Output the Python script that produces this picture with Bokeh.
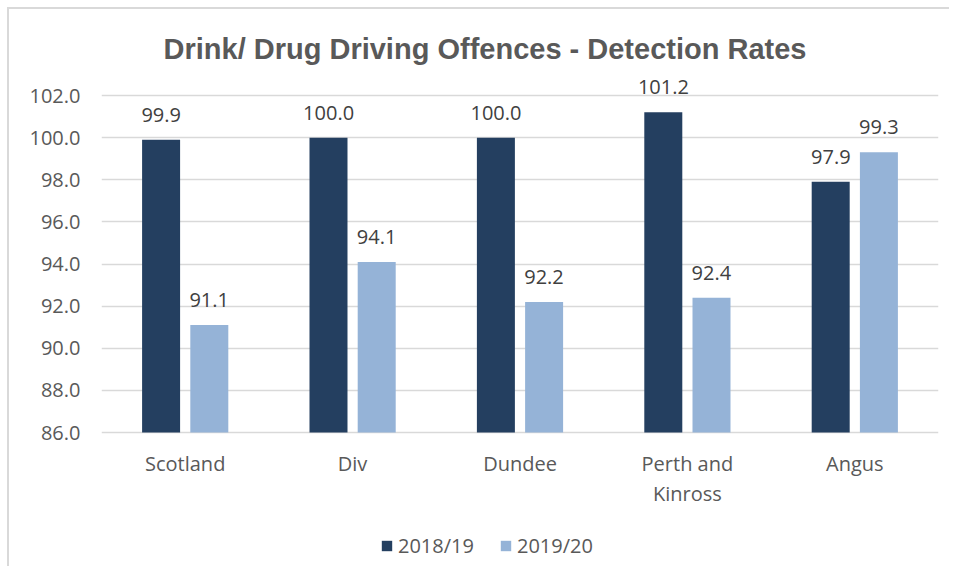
from bokeh.plotting import figure
from bokeh.models import (ColumnDataSource, FactorRange, LabelSet, Legend, LegendItem,
                          Range1d, FixedTicker, NumeralTickFormatter)
from bokeh.core.properties import value
from bokeh.transform import dodge
from bokeh.embed import file_html
from bokeh.resources import INLINE

title_text = "Drink/ Drug Driving Offences - Detection Rates"
categories = ["Scotland", "Div", "Dundee", "Perth and Kinross", "Angus"]
category_line1 = ["Scotland", "Div", "Dundee", "Perth and", "Angus"]
category_line2 = ["", "", "", "Kinross", ""]
series_names = ["2018/19", "2019/20"]
values_2018_19 = [99.9, 100.0, 100.0, 101.2, 97.9]
values_2019_20 = [91.1, 94.1, 92.2, 92.4, 99.3]
y_ticks = [86, 88, 90, 92, 94, 96, 98, 100, 102]
axis_min = 86

DARK = "#243F60"
LIGHT = "#95B3D7"
GREY_TEXT = "#595959"
GRID = "#d9d9d9"
FONT = "Open Sans"

# layout: value axis spans 337 px for 86..102; frame extends above/below it
AXIS_PX = 337
PX_PER_UNIT = AXIS_PX / (y_ticks[-1] - y_ticks[0])
FRAME_EXTRA_TOP_PX = 23
FRAME_EXTRA_BOTTOM_PX = 134
y_lo = y_ticks[0] - FRAME_EXTRA_BOTTOM_PX / PX_PER_UNIT
y_hi = y_ticks[-1] + FRAME_EXTRA_TOP_PX / PX_PER_UNIT

source = ColumnDataSource(dict(
    cat=categories,
    v1=values_2018_19,
    v2=values_2019_20,
    l1=["{:.1f}".format(v) for v in values_2018_19],
    l2=["{:.1f}".format(v) for v in values_2019_20],
    base=[axis_min] * len(categories),
    c1=category_line1,
    c2=category_line2,
))

p = figure(x_range=FactorRange(*categories, range_padding=0),
           y_range=Range1d(y_lo, y_hi),
           frame_width=837, frame_height=FRAME_EXTRA_TOP_PX + AXIS_PX + FRAME_EXTRA_BOTTOM_PX,
           output_backend="svg", toolbar_location=None,
           min_border_left=92, min_border_right=11, min_border_top=63, min_border_bottom=0)
p.styles = {"margin-left": "7px", "margin-top": "7px",
            "border-left": "2px solid #d9d9d9", "border-top": "2px solid #d9d9d9"}

p.title.text = title_text
p.title.align = "left"
p.title.offset = 62
p.title.text_font = "Liberation Sans"
p.title.text_font_style = "bold"
p.title.text_font_size = "29px"
p.title.text_color = GREY_TEXT
p.title.standoff = 16

r1 = p.vbar(x=dodge("cat", -0.144, range=p.x_range), top="v1", bottom="base", width=0.227,
            source=source, fill_color=DARK, line_color=None)
r2 = p.vbar(x=dodge("cat", 0.144, range=p.x_range), top="v2", bottom="base", width=0.227,
            source=source, fill_color=LIGHT, line_color=None)

for xo, yf, lf in [(-24, "v1", "l1"), (24, "v2", "l2")]:
    p.add_layout(LabelSet(x="cat", y=yf, text=lf, source=source, x_offset=xo, y_offset=18,
                          text_align="center", text_baseline="alphabetic",
                          text_font=value(FONT), text_font_size=value("20px"),
                          text_color="#404040"))

# category labels (two lines where wrapped)
for tf, yo in [("c1", -31), ("c2", -61)]:
    p.add_layout(LabelSet(x="cat", y="base", text=tf, source=source, y_offset=yo,
                          text_align="center", text_baseline="middle",
                          text_font=value(FONT), text_font_size=value("20px"),
                          text_color=GREY_TEXT))

p.outline_line_color = None
p.xgrid.grid_line_color = None
p.ygrid.grid_line_color = GRID
p.ygrid.grid_line_width = 1.5
p.xaxis.visible = False

p.yaxis.ticker = FixedTicker(ticks=y_ticks)
p.yaxis.formatter = NumeralTickFormatter(format="0.0")
p.yaxis.axis_line_color = None
p.yaxis.major_tick_line_color = None
p.yaxis.minor_tick_line_color = None
p.yaxis.major_label_standoff = 15
p.yaxis.major_label_text_font = FONT
p.yaxis.major_label_text_font_size = "20px"
p.yaxis.major_label_text_color = GREY_TEXT

legend = Legend(items=[LegendItem(label=series_names[0], renderers=[r1]),
                       LegendItem(label=series_names[1], renderers=[r2])],
                orientation="horizontal", location=(279, 7))
legend.border_line_color = None
legend.background_fill_alpha = 0
legend.padding = 0
legend.margin = 0
legend.spacing = 25
legend.label_standoff = 5
legend.glyph_width = 13
legend.glyph_height = 13
legend.label_text_font = FONT
legend.label_text_font_size = "20px"
legend.label_text_color = GREY_TEXT
p.add_layout(legend, "center")

open("out.html", "w").write(file_html(p, INLINE))
